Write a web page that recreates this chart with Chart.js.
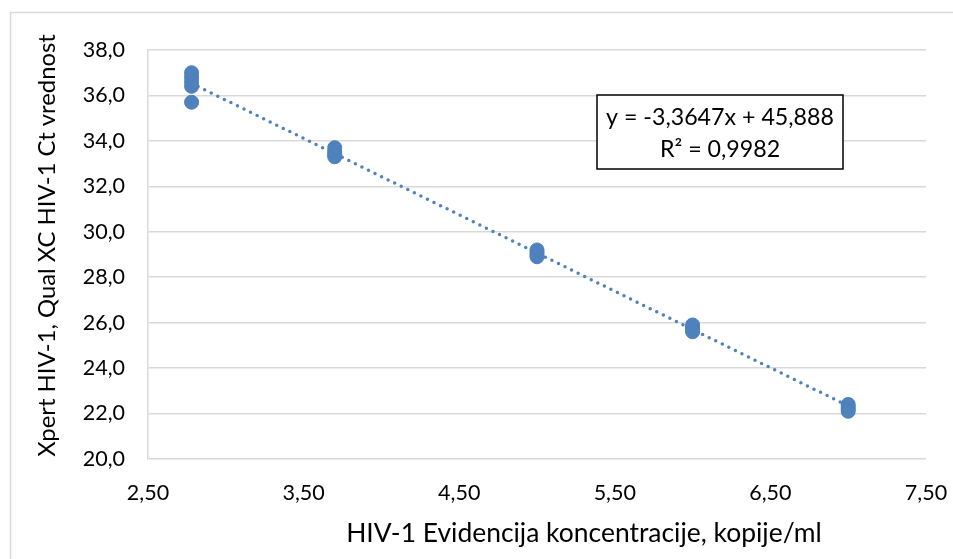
<!DOCTYPE html>
<html>
<head>
<meta charset="utf-8">
<script src="https://cdn.jsdelivr.net/npm/chart.js@4"></script>
<style>
html,body{margin:0;padding:0;background:#fff;}
#wrap{width:953px;height:559px;position:relative;}
</style>
</head>
<body>
<div id="wrap"><canvas id="c" width="953" height="559"></canvas></div>
<script>
// ---- data ----
const logConcentration = [2.78,2.78,2.78,2.78,2.78, 3.70,3.70,3.70,3.70, 5.00,5.00,5.00,5.00, 6.00,6.00,6.00,6.00, 7.00,7.00,7.00,7.00];
const ctValues = [37.0,36.8,36.6,36.4,35.7, 33.7,33.5,33.4,33.3, 29.2,29.1,29.0,28.9, 25.9,25.8,25.7,25.6, 22.4,22.3,22.2,22.1];
const trendSlope = -3.3647;
const trendIntercept = 45.888;
const trendR2 = "0,9982";
const xTitle = "HIV-1 Evidencija koncentracije, kopije/ml";
const yTitle = "Xpert HIV-1, Qual XC HIV-1 Ct vrednost";
const equationText = "y = -3,3647x + 45,888";
const r2Text = "R\u00B2 = " + trendR2;

const points = logConcentration.map((x, i) => ({x: x, y: ctValues[i]}));
const xMinData = Math.min(...logConcentration);
const xMaxData = Math.max(...logConcentration);
const trendPoints = [xMinData, xMaxData].map(x => ({x: x, y: trendSlope * x + trendIntercept}));

const FONT = "Lato, 'Open Sans', sans-serif";
const BLUE = '#4f81bd';
const GRID = '#d9d9d9';

function fitFont(ctx, text, targetWidth) {
  ctx.font = "20px " + FONT;
  const w = ctx.measureText(text).width;
  return 20 * targetWidth / w;
}

const decor = {
  id: 'decor',
  beforeDraw(chart) {
    const ctx = chart.ctx;
    ctx.save();
    ctx.fillStyle = '#fff';
    ctx.fillRect(0, 0, chart.width, chart.height);
    ctx.strokeStyle = GRID;
    ctx.lineWidth = 1.5;
    ctx.strokeRect(10.5, 12.5, chart.width + 20, chart.height + 20);
    ctx.restore();
  },
  afterDraw(chart) {
    const ctx = chart.ctx;
    const a = chart.chartArea;
    ctx.save();
    ctx.fillStyle = '#000';
    ctx.textAlign = 'center';
    ctx.textBaseline = 'middle';
    // x title
    const fx = fitFont(ctx, xTitle, 476);
    ctx.font = fx.toFixed(2) + "px " + FONT;
    ctx.fillText(xTitle, (a.left + a.right) / 2 + 47, 533);
    // y title
    const fy = fitFont(ctx, yTitle, 423);
    ctx.save();
    ctx.translate(47, (a.top + a.bottom) / 2 - 9);
    ctx.rotate(-Math.PI / 2);
    ctx.font = fy.toFixed(2) + "px " + FONT;
    ctx.fillText(yTitle, 0, 0);
    ctx.restore();
    // equation box
    const bx = 597, by = 95, bw = 246, bh = 74;
    ctx.fillStyle = '#fff';
    ctx.fillRect(bx, by, bw, bh);
    ctx.strokeStyle = '#000';
    ctx.lineWidth = 1.5;
    ctx.strokeRect(bx, by, bw, bh);
    ctx.fillStyle = '#000';
    const fe = fitFont(ctx, equationText, 228);
    ctx.font = fe.toFixed(2) + "px " + FONT;
    ctx.fillText(equationText, bx + bw / 2, 118);
    ctx.fillText(r2Text, bx + bw / 2, 150);
    ctx.restore();
  }
};

new Chart(document.getElementById('c'), {
  type: 'scatter',
  data: {
    datasets: [
      {
        type: 'line',
        data: trendPoints,
        borderColor: BLUE,
        borderWidth: 3.5,
        borderDash: [0, 7.3],
        borderCapStyle: 'round',
        pointRadius: 0,
        fill: false,
        order: 1
      },
      {
        data: points,
        backgroundColor: BLUE,
        borderColor: BLUE,
        borderWidth: 1,
        pointRadius: 7,
        pointHoverRadius: 7,
        order: 2
      }
    ]
  },
  options: {
    responsive: false,
    animation: false,
    events: [],
    layout: {padding: {left: 0, top: 50, right: 27, bottom: 0}},
    plugins: {legend: {display: false}, tooltip: {enabled: false}},
    scales: {
      x: {
        type: 'linear',
        min: 2.5, max: 7.5,
        afterFit(s) { s.height = 100; s.paddingRight = 0; s.paddingLeft = 0; },
        grid: {display: false, drawTicks: false},
        border: {display: false},
        ticks: {
          stepSize: 1,
          padding: 21,
          color: '#000',
          font: {family: FONT, size: 21.5},
          callback: v => Number(v).toFixed(2).replace('.', ',')
        }
      },
      y: {
        type: 'linear',
        min: 20, max: 38,
        afterFit(s) { s.width = 148; s.paddingTop = 0; s.paddingBottom = 0; },
        grid: {color: GRID, lineWidth: 1.5, drawTicks: false},
        border: {display: true, color: GRID, width: 1.5},
        ticks: {
          stepSize: 2,
          padding: 23,
          color: '#000',
          font: {family: FONT, size: 21.5},
          callback: v => Number(v).toFixed(1).replace('.', ',')
        }
      }
    }
  },
  plugins: [decor]
});
</script>
</body>
</html>
